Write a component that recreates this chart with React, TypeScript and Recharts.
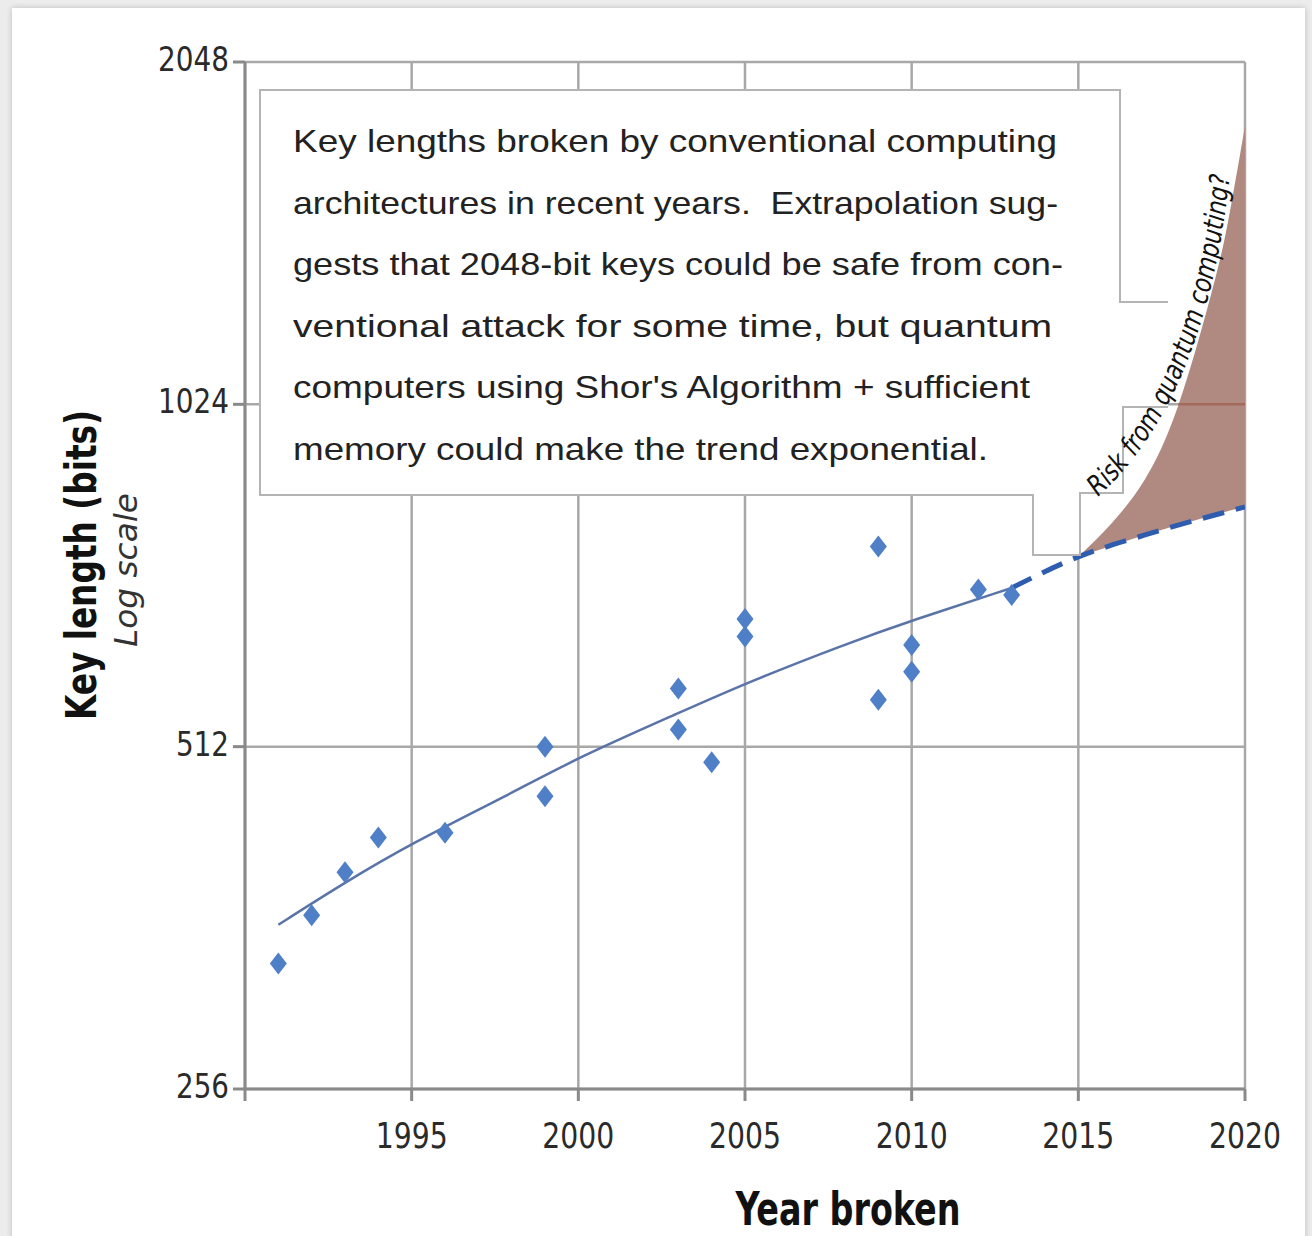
import React from 'react';
import { Area, CartesianGrid, ComposedChart, Line, ReferenceLine, Scatter, XAxis, YAxis } from 'recharts';

// RSA challenge numbers factored, by year
const brokenYears = [1991, 1992, 1993, 1994, 1996, 1999, 1999, 2003, 2003, 2004, 2005, 2005, 2009, 2009, 2010, 2010, 2012, 2013];
const brokenBits = [330, 364, 397, 426, 430, 463, 512, 530, 576, 496, 640, 663, 563, 768, 596, 629, 704, 696];

// fitted trend (solid) and its extrapolation (dashed)
const trendYears = [1991, 1993, 1995, 1998, 2000, 2003, 2005, 2008, 2010, 2013];
const trendBits = [357, 389, 421, 466, 501, 548, 582, 630, 661, 706];
const extrapYears = [2013, 2015, 2017, 2020];
const extrapBits = [706, 752, 786, 832];

// quantum risk band
const riskYears = [2015, 2016, 2017, 2018, 2019, 2019.5, 2020];
const riskLow = [752, 769, 786, 802, 817, 825, 832];
const riskHigh = [752, 805, 880, 1022, 1285, 1487, 1800];

const xTicks = [1990, 1995, 2000, 2005, 2010, 2015, 2020];
const yTicks = [256, 512, 1024, 2048];

const noteLines = [
  'Key lengths broken by conventional computing',
  'architectures in recent years.  Extrapolation sug-',
  'gests that 2048-bit keys could be safe from con-',
  'ventional attack for some time, but quantum',
  "computers using Shor's Algorithm + sufficient",
  'memory could make the trend exponential.',
];
const noteWidths = [764, 765, 770, 759, 737, 695];

const brokenData = brokenYears.map((year, i) => ({ year, bits: brokenBits[i] }));
const trendData = trendYears.map((year, i) => ({ year, bits: trendBits[i] }));
const extrapData = extrapYears.map((year, i) => ({ year, bits: extrapBits[i] }));
const riskData = riskYears.map((year, i) => ({ year, band: [riskLow[i], riskHigh[i]] }));

const narrow = "'Liberation Sans Narrow', 'DejaVu Sans Condensed', 'Liberation Sans', sans-serif";
const arial = "'Liberation Sans', Arial, sans-serif";

const Diamond = (props: any) => {
  const { cx, cy } = props;
  if (cx == null || cy == null) return null;
  return <path d={`M${cx},${cy - 11}L${cx + 8.5},${cy}L${cx},${cy + 11}L${cx - 8.5},${cy}Z`} fill="#4f7fc6" />;
};

const XTick = (props: any) => {
  const { x, y, payload } = props;
  if (payload.value === 1990) return null;
  return (
    <text x={x} y={y + 47} textAnchor="middle" fontFamily={narrow} fontSize={35} fill="#2a2a2a"
      textLength={72} lengthAdjust="spacingAndGlyphs">
      {payload.value}
    </text>
  );
};

const YTick = (props: any) => {
  const { x, y, payload } = props;
  const label = String(payload.value);
  return (
    <text x={x} y={y + 9} textAnchor="end" fontFamily={narrow} fontSize={33} fill="#2a2a2a"
      textLength={label.length === 4 ? 71 : 53} lengthAdjust="spacingAndGlyphs">
      {label}
    </text>
  );
};

export default function App() {
  return (
    <div style={{ position: 'absolute', left: 0, top: 0, width: 1312, height: 1236, background: '#ececec', overflow: 'hidden' }}>
      <div style={{ position: 'absolute', left: 12, top: 8, width: 1293, height: 1250, background: '#fff', boxShadow: '0 0 6px rgba(0,0,0,0.2)' }} />
      <div style={{ position: 'absolute', left: 0, top: 0 }}>
        <ComposedChart width={1312} height={1236} margin={{ top: 62, right: 67, bottom: 87, left: 165 }}>
          <CartesianGrid stroke="#a8a8a8" strokeWidth={2.5} />
          <XAxis type="number" dataKey="year" domain={[1990, 2020]} ticks={xTicks} interval={0}
            stroke="#8a8a8a" strokeWidth={3} tickSize={12} tickMargin={0} height={60}
            tickLine={{ stroke: '#8a8a8a', strokeWidth: 3 }} tick={<XTick />} allowDataOverflow />
          <YAxis type="number" scale="log" domain={[256, 2048]} ticks={yTicks} interval={0}
            stroke="#8a8a8a" strokeWidth={3} tickSize={12} tickMargin={4} width={80}
            tickLine={{ stroke: '#8a8a8a', strokeWidth: 3 }} tick={<YTick />} allowDataOverflow />
          <Area data={riskData} dataKey="band" type="natural" fill="#b08a80" fillOpacity={1} stroke="none" isAnimationActive={false} />
          <ReferenceLine segment={[{ x: 2018, y: 1024 }, { x: 2020, y: 1024 }]} stroke="#a36a5c" strokeWidth={2.5} />
          <Line data={trendData} dataKey="bits" type="basis" stroke="#5a74a8" strokeWidth={2.5} dot={false} isAnimationActive={false} />
          <Line data={extrapData} dataKey="bits" type="monotone" stroke="#2e5cae" strokeWidth={5} strokeDasharray="22 12" dot={false} isAnimationActive={false} />
          <Scatter data={brokenData} dataKey="bits" shape={<Diamond />} isAnimationActive={false} />
        </ComposedChart>
      </div>
      <svg width={1312} height={1236} style={{ position: 'absolute', left: 0, top: 0, pointerEvents: 'none' }}>
        <path d="M260,90L1120,90L1120,302L1168,302L1168,407L1123,407L1123,493L1080,493L1080,555L1033,555L1033,495L260,495Z" fill="#fff" />
        <path d="M1168,302L1120,302L1120,90L260,90L260,495L1033,495L1033,555L1080,555L1080,493L1123,493L1123,407L1168,407"
          fill="none" stroke="#b4b4b4" strokeWidth={2} />
        {noteLines.map((line, i) => (
          <text key={i} x={293} y={152 + i * 61.6} fontFamily={arial} fontSize={32} fill="#222"
            textLength={noteWidths[i]} lengthAdjust="spacingAndGlyphs" style={{ whiteSpace: 'pre' }}>
            {line}
          </text>
        ))}
        <path id="riskPath" d="M1098,497 Q1212,392 1232,152" fill="none" />
        <text fontFamily={narrow} fontSize={28} fontStyle="italic" fill="#111">
          <textPath href="#riskPath" textLength={355} lengthAdjust="spacingAndGlyphs">Risk from quantum computing?</textPath>
        </text>
        <text transform="translate(96,565) rotate(-90)" textAnchor="middle" fontFamily={narrow} fontWeight="bold" fontSize={42}
          fill="#111" textLength={310} lengthAdjust="spacingAndGlyphs">
          Key length (bits)
        </text>
        <text transform="translate(137,570) rotate(-90)" textAnchor="middle" fontFamily={narrow} fontStyle="italic" fontSize={32}
          fill="#333" textLength={154} lengthAdjust="spacingAndGlyphs">
          Log scale
        </text>
        <text x={848} y={1225} textAnchor="middle" fontFamily={narrow} fontWeight="bold" fontSize={46} fill="#111"
          textLength={225} lengthAdjust="spacingAndGlyphs">
          Year broken
        </text>
      </svg>
    </div>
  );
}
